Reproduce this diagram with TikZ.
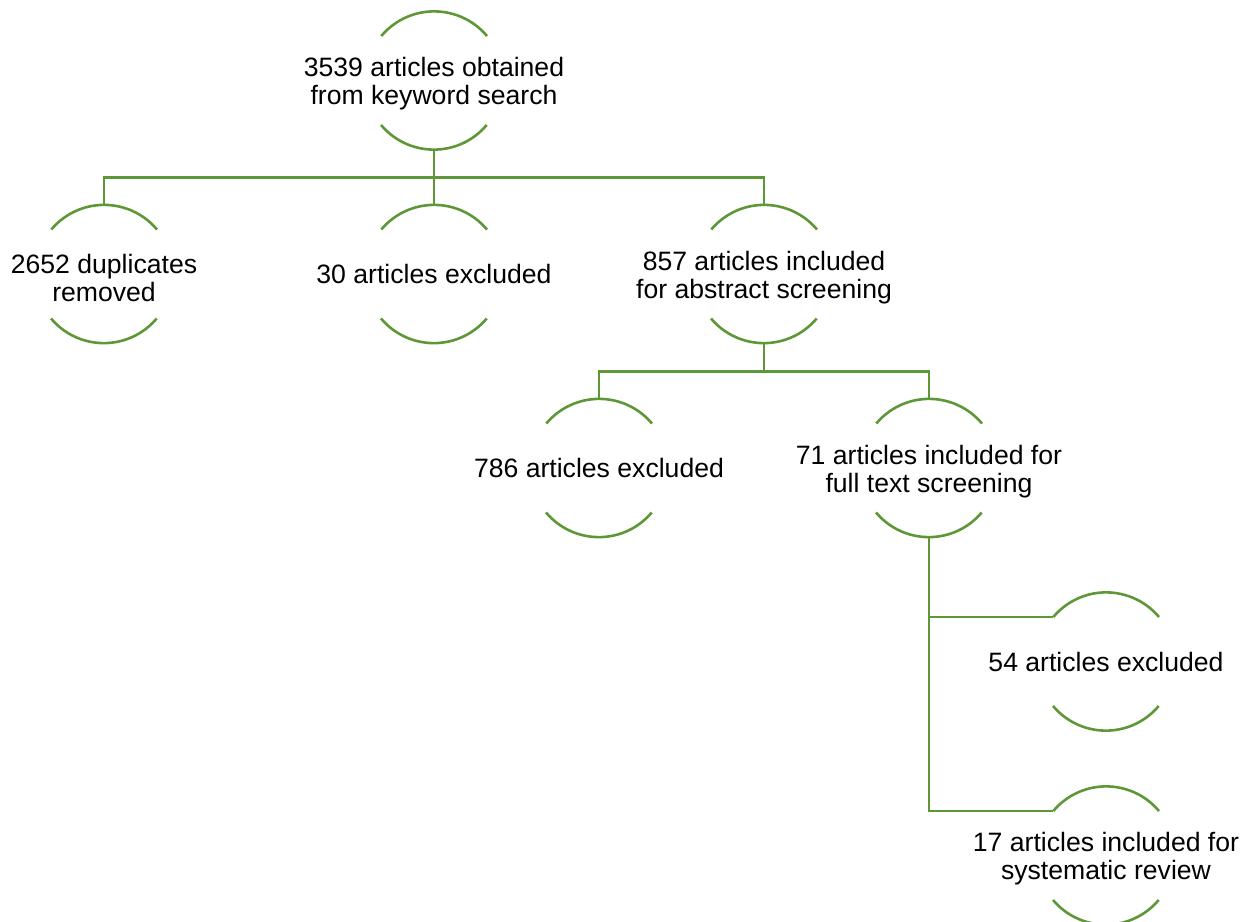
\documentclass[tikz,border=0pt]{standalone}
\usepackage{fontspec}
\setmainfont{Liberation Sans}
\definecolor{lg}{RGB}{94,151,55}
\begin{document}
\begin{tikzpicture}[x=1pt,y=1pt,
  stage/.style={circle, minimum size=138pt, inner sep=0pt},
  lbl/.style={align=center, font=\fontsize{26.6}{28}\selectfont, text=black, inner sep=0pt},
  lbltwo/.style={lbl, yshift=-3.5pt},
  rim/.style={draw=lg, line width=2.6pt},
  link/.style={draw=lg, line width=2.6pt}]
\useasboundingbox (0,0) rectangle (1258,-921);
% stage positions
\node[stage] (top) at (434,-80.5) {};
\node[stage] (dup) at (104,-274) {};
\node[stage] (exa) at (434,-274) {};
\node[stage] (abs) at (764,-274) {};
\node[stage] (exb) at (599,-468) {};
\node[stage] (ful) at (929,-468) {};
\node[stage] (exc) at (1106,-661.5) {};
\node[stage] (sys) at (1106,-855.5) {};
% arcs
\foreach \n in {top,dup,exa,abs,exb,ful,exc,sys}{
  \draw[rim] (\n.40) arc (40:140:69pt);
  \draw[rim] (\n.220) arc (220:320:69pt);
}
% labels
\node[lbltwo] at (top) {3539 articles obtained\\from keyword search};
\node[lbltwo] at (dup) {2652 duplicates\\removed};
\node[lbl] at (exa) {30 articles excluded};
\node[lbltwo] at (abs) {857 articles included\\for abstract screening};
\node[lbl] at (exb) {786 articles excluded};
\node[lbltwo] at (ful) {71 articles included for\\full text screening};
\node[lbl] at (exc) {54 articles excluded};
\node[lbltwo] at (sys) {17 articles included for\\systematic review};
% connectors
\draw[link] (top.south) -- ++(0,-28) coordinate (j1);
\draw[link] (j1) -| (dup.north);
\draw[link] (j1) -- (exa.north);
\draw[link] (j1) -| (abs.north);
\draw[link] (abs.south) -- ++(0,-28) coordinate (j2);
\draw[link] (j2) -| (exb.north);
\draw[link] (j2) -| (ful.north);
\draw[link] (ful.south) |- (exc.140);
\draw[link] (ful.south) |- (sys.140);
\end{tikzpicture}
\end{document}
